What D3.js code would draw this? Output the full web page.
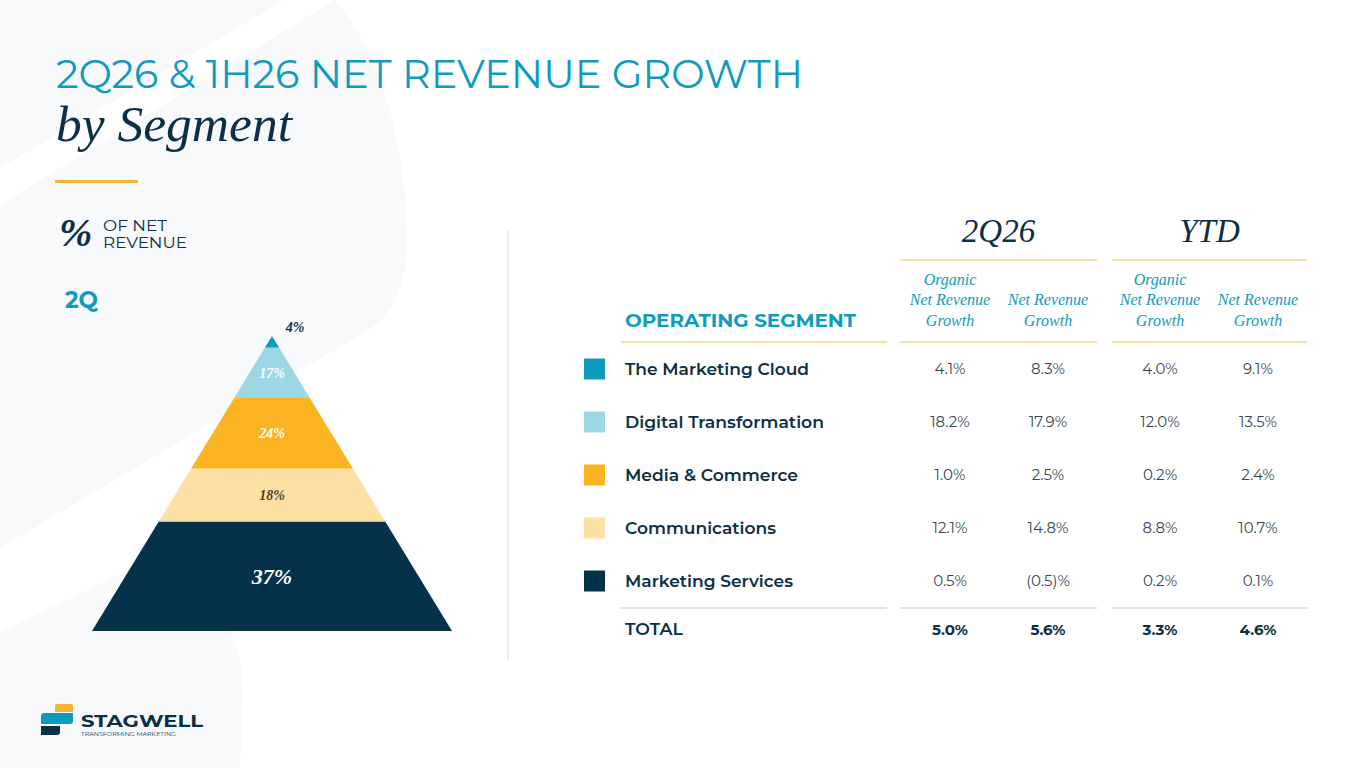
<!DOCTYPE html>
<html><head><meta charset="utf-8">
<script src="https://cdn.jsdelivr.net/npm/d3@7/dist/d3.min.js"></script>
<style>
html,body{margin:0;padding:0;background:#fff;}
svg{display:block;}
</style></head>
<body>
<svg id="c" width="1365" height="768"></svg>
<script>
// ---- data ----
const segments = ["The Marketing Cloud", "Digital Transformation", "Media & Commerce", "Communications", "Marketing Services"];
const shareOfRevenue = [4, 17, 24, 18, 37];
const organic2Q = [4.1, 18.2, 1.0, 12.1, 0.5];
const net2Q = [8.3, 17.9, 2.5, 14.8, -0.5];
const organicYTD = [4.0, 12.0, 0.2, 8.8, 0.2];
const netYTD = [9.1, 13.5, 2.4, 10.7, 0.1];
const totals = [5.0, 5.6, 3.3, 4.6];
const segColors = ["#0e9bbd", "#9dd6e5", "#fbb421", "#fde1a4", "#04324a"];
const pyrLabelColors = ["#0b2f45", "#ffffff", "#ffffff", "#4a3d30", "#ffffff"];
const groupHeaders = ["2Q26", "YTD"];
const colHeaders = [["Organic", "Net Revenue", "Growth"], ["Net Revenue", "Growth"], ["Organic", "Net Revenue", "Growth"], ["Net Revenue", "Growth"]];

const svg = d3.select("#c");
const NAVY = "#0b2f45", TEAL = "#0f9bbd", GOLD = "#f5b52e";
const sans = "Montserrat, 'Open Sans', Lato, sans-serif";
const serif = "'Liberation Serif', 'DejaVu Serif', serif";
const BG = "#f7f9fa";

// ---- background shapes ----
svg.append("path").attr("d", "M0,0 L285,0 L0,168 Z").attr("fill", BG);
svg.append("path")
  .attr("d", "M0,205 L335,0 C370,40 405,120 407,235 C408,290 390,320 360,335 L0,548 Z")
  .attr("fill", BG);
svg.append("path")
  .attr("d", "M0,632 L150,560 C215,580 245,640 243,700 L240,768 L0,768 Z")
  .attr("fill", BG);

// ---- title ----
svg.append("text").attr("x", 56).attr("y", 88)
  .attr("font-family", sans).attr("font-size", 40).attr("fill", TEAL)
  .attr("textLength", 747).attr("lengthAdjust", "spacingAndGlyphs")
  .text("2Q26 & 1H26 NET REVENUE GROWTH");
svg.append("text").attr("x", 56).attr("y", 141)
  .attr("font-family", serif).attr("font-style", "italic").attr("font-size", 50).attr("fill", NAVY)
  .attr("textLength", 236).attr("lengthAdjust", "spacingAndGlyphs")
  .text("by Segment");
svg.append("rect").attr("x", 55).attr("y", 180).attr("width", 83).attr("height", 3).attr("fill", GOLD);

// ---- % of net revenue ----
svg.append("text").attr("x", 59).attr("y", 246)
  .attr("font-family", serif).attr("font-style", "italic").attr("font-weight", "bold")
  .attr("font-size", 40).attr("fill", NAVY).text("%");
svg.append("text").attr("x", 103).attr("y", 231)
  .attr("font-family", sans).attr("font-size", 15).attr("fill", NAVY)
  .attr("textLength", 64).attr("lengthAdjust", "spacingAndGlyphs").text("OF NET");
svg.append("text").attr("x", 103).attr("y", 248)
  .attr("font-family", sans).attr("font-size", 15).attr("fill", NAVY)
  .attr("textLength", 84).attr("lengthAdjust", "spacingAndGlyphs").text("REVENUE");
svg.append("text").attr("x", 65).attr("y", 308)
  .attr("font-family", sans).attr("font-weight", "bold").attr("font-size", 23).attr("fill", TEAL)
  .text("2Q");

// ---- pyramid ----
const apexX = 272, apexY = 336, baseY = 631, baseHalf = 180;
const cum = [0];
shareOfRevenue.forEach((v, i) => cum.push(cum[i] + v));
const yP = d3.scaleLinear().domain([0, d3.sum(shareOfRevenue)]).range([apexY, baseY]);
const halfW = d3.scaleLinear().domain([apexY, baseY]).range([0, baseHalf]);
const pyr = svg.append("g");
shareOfRevenue.forEach((v, i) => {
  const y0 = yP(cum[i]), y1 = yP(cum[i + 1]);
  const w0 = halfW(y0), w1 = halfW(y1);
  pyr.append("path")
    .attr("d", `M${apexX - w0},${y0} L${apexX + w0},${y0} L${apexX + w1},${y1} L${apexX - w1},${y1} Z`)
    .attr("fill", segColors[i]);
  const big = i === shareOfRevenue.length - 1;
  const lx = i === 0 ? apexX + 23 : apexX;
  const ly = i === 0 ? apexY - 4 : (y0 + y1) / 2 + (big ? 8 : 5);
  pyr.append("text").attr("x", lx).attr("y", ly)
    .attr("text-anchor", "middle")
    .attr("font-family", serif).attr("font-style", "italic").attr("font-weight", "bold")
    .attr("font-size", big ? 22 : 14).attr("fill", pyrLabelColors[i])
    .text(v + "%");
});

// ---- divider ----
svg.append("line").attr("x1", 508).attr("x2", 508).attr("y1", 230).attr("y2", 660)
  .attr("stroke", "#dfe3e6").attr("stroke-width", 1.2);

// ---- table ----
const colX = [950, 1048, 1160, 1258];
const groupSpans = [[900, 1097], [1112, 1307]];
const labelSpan = [621, 887];
const fmt = v => v < 0 ? "(" + d3.format(".1f")(-v) + ")%" : d3.format(".1f")(v) + "%";

groupHeaders.forEach((g, i) => {
  const cx = (groupSpans[i][0] + groupSpans[i][1]) / 2;
  svg.append("text").attr("x", cx).attr("y", 242).attr("text-anchor", "middle")
    .attr("font-family", serif).attr("font-style", "italic").attr("font-size", 33).attr("fill", NAVY)
    .text(g);
  svg.append("line").attr("x1", groupSpans[i][0]).attr("x2", groupSpans[i][1]).attr("y1", 260).attr("y2", 260)
    .attr("stroke", "#f8d88a").attr("stroke-width", 1.6);
});

colHeaders.forEach((lines, i) => {
  const baseYs = lines.length === 3 ? [285, 305, 326] : [305, 326];
  lines.forEach((t, j) => {
    svg.append("text").attr("x", colX[i]).attr("y", baseYs[j]).attr("text-anchor", "middle")
      .attr("font-family", serif).attr("font-style", "italic").attr("font-size", 16).attr("fill", TEAL)
      .text(t);
  });
});

svg.append("text").attr("x", 625).attr("y", 327)
  .attr("font-family", sans).attr("font-weight", "bold").attr("font-size", 18).attr("fill", TEAL)
  .attr("textLength", 231).attr("lengthAdjust", "spacingAndGlyphs")
  .text("OPERATING SEGMENT");

[labelSpan].concat(groupSpans).forEach(s => {
  svg.append("line").attr("x1", s[0]).attr("x2", s[1]).attr("y1", 342).attr("y2", 342)
    .attr("stroke", "#f8d88a").attr("stroke-width", 1.6);
  svg.append("line").attr("x1", s[0]).attr("x2", s[1]).attr("y1", 608).attr("y2", 608)
    .attr("stroke", "#d6d9dc").attr("stroke-width", 1.4);
});

const yRow = d3.scalePoint().domain(segments).range([369, 581]);
const labelLens = [184, 199, 173, 151, 168];
segments.forEach((s, i) => {
  const y = yRow(s);
  svg.append("rect").attr("x", 584).attr("y", y - 10.5).attr("width", 21).attr("height", 21)
    .attr("fill", segColors[i]);
  svg.append("text").attr("x", 625).attr("y", y + 6)
    .attr("font-family", sans).attr("font-weight", 600).attr("font-size", 17).attr("fill", NAVY)
    .attr("textLength", labelLens[i]).attr("lengthAdjust", "spacingAndGlyphs")
    .text(s);
  [organic2Q[i], net2Q[i], organicYTD[i], netYTD[i]].forEach((v, j) => {
    svg.append("text").attr("x", colX[j]).attr("y", y + 5).attr("text-anchor", "middle")
      .attr("font-family", sans).attr("font-size", 15).attr("fill", "#3a4750")
      .text(fmt(v));
  });
});

svg.append("text").attr("x", 625).attr("y", 635)
  .attr("font-family", sans).attr("font-weight", 600).attr("font-size", 16).attr("fill", NAVY)
  .attr("textLength", 58).attr("lengthAdjust", "spacingAndGlyphs")
  .text("TOTAL");
totals.forEach((v, j) => {
  svg.append("text").attr("x", colX[j]).attr("y", 635).attr("text-anchor", "middle")
    .attr("font-family", sans).attr("font-weight", "bold").attr("font-size", 15).attr("fill", NAVY)
    .text(fmt(v));
});

// ---- logo ----
const logo = svg.append("g");
logo.append("path").attr("d", "M57,704 L71,704 Q73,704 73,706 L73,712 L55,712 L55,706 Q55,704 57,704 Z").attr("fill", GOLD);
logo.append("path").attr("d", "M44,713 L73,713 L73,721 Q73,724 70,724 L41,724 L41,716 Q41,713 44,713 Z").attr("fill", TEAL);
logo.append("path").attr("d", "M41,726 L60,726 L60,732 Q60,735 57,735 L41,735 Z").attr("fill", NAVY);
logo.append("text").attr("x", 81).attr("y", 727)
  .attr("font-family", sans).attr("font-weight", "bold").attr("font-size", 17).attr("fill", NAVY)
  .attr("textLength", 122).attr("lengthAdjust", "spacingAndGlyphs").text("STAGWELL");
logo.append("text").attr("x", 81).attr("y", 735.5)
  .attr("font-family", sans).attr("font-size", 6).attr("fill", NAVY)
  .attr("textLength", 95).attr("lengthAdjust", "spacingAndGlyphs").text("TRANSFORMING MARKETING");
</script>
</body></html>
